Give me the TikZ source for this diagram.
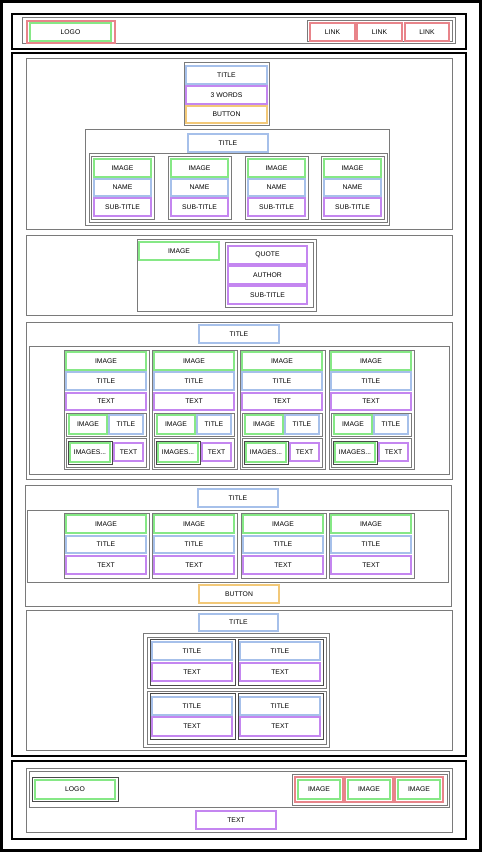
\documentclass[tikz,border=0pt]{standalone}
\usepackage{fontspec}
\newfontfamily\wf{Liberation Sans}
\definecolor{cgray}{HTML}{7A7A7A}
\definecolor{cdark}{HTML}{4A4A4A}
\definecolor{cgreen}{HTML}{86E886}
\definecolor{cblue}{HTML}{A6C0EA}
\definecolor{cpurple}{HTML}{C486F0}
\definecolor{corange}{HTML}{F2C878}
\definecolor{cred}{HTML}{E8848A}
\tikzset{
  wbox/.style={inner sep=0pt, outer sep=0pt, font=\wf\fontsize{6.8}{7}\selectfont, text=black, anchor=center},
  frame/.style={wbox, draw=black, line width=3pt},
  thick box/.style={wbox, draw=black, line width=2.3pt},
  gbox/.style={wbox, draw=cgray, line width=1pt},
  dbox/.style={wbox, draw=cdark, line width=1pt},
  grn/.style={wbox, draw=cgreen, line width=1.1pt},
  blu/.style={wbox, draw=cblue, line width=1.1pt},
  pur/.style={wbox, draw=cpurple, line width=1.1pt},
  org/.style={wbox, draw=corange, line width=1.1pt},
  rd/.style={wbox, draw=cred, line width=1.1pt},
}
\newcommand\bx[7]{\node[#1, minimum width={(#4)-(#2)}, minimum height={(#5)-(#3)}] (#6) at ({((#2)+(#4))/2},{((#3)+(#5))/2}) {#7};}
\begin{document}
\begin{tikzpicture}[x=1pt,y=-1pt]
\useasboundingbox (0,0) rectangle (483,853);
\bx{frame}{1.5}{1.5}{480.5}{850.5}{page}{}
% ---------- header
\bx{thick box}{12}{14}{466}{49}{header}{}
\bx{gbox}{22}{18}{455}{44}{headin}{}
\bx{rd}{27}{21}{115}{43}{logobox}{}
\bx{grn}{30}{23}{111}{41}{logo}{LOGO}
\bx{gbox}{307}{21}{452}{42}{links}{}
\bx{rd}{310}{23}{355}{41}{link1}{LINK}
\bx{rd}{357}{23}{402}{41}{link2}{LINK}
\bx{rd}{405}{23}{449}{41}{link3}{LINK}
% ---------- main
\bx{thick box}{12}{53}{466}{756}{main}{}
% section 1
\bx{gbox}{26}{59}{452}{229}{s1}{}
\bx{gbox}{184}{63}{269}{126}{hero}{}
\bx{blu}{186}{66}{267}{84}{herotitle}{TITLE}
\bx{pur}{186}{86}{267}{104}{herowords}{3 WORDS}
\bx{org}{186}{106}{267}{123}{herobtn}{BUTTON}
\bx{gbox}{85}{130}{389}{225}{team}{}
\bx{blu}{188}{134}{268}{152}{teamtitle}{TITLE}
\bx{gbox}{89}{154}{387}{222}{teamrow}{}
\foreach \x [count=\i] in {91,168,245,321}{
  \bx{gbox}{\x}{157}{\x+63}{219}{tc\i}{}
  \bx{grn}{\x+3}{159}{\x+60}{177}{tci\i}{IMAGE}
  \bx{blu}{\x+3}{179}{\x+60}{196}{tcn\i}{NAME}
  \bx{pur}{\x+3}{198}{\x+60}{216}{tcs\i}{SUB-TITLE}
}
% section 2
\bx{gbox}{26}{235}{452}{315}{s2}{}
\bx{gbox}{137}{239}{316}{311}{testi}{}
\bx{grn}{139}{242}{219}{260}{testimg}{IMAGE}
\bx{gbox}{225}{242}{313}{307}{quotebox}{}
\bx{pur}{228}{246}{307}{264}{quote}{QUOTE}
\bx{pur}{228}{266}{307}{284}{author}{AUTHOR}
\bx{pur}{228}{286}{307}{304}{qsub}{SUB-TITLE}
% section 3
\bx{gbox}{26}{322}{452}{479}{s3}{}
\bx{blu}{199}{325}{279}{343}{s3title}{TITLE}
\bx{gbox}{29}{346}{449}{474}{s3in}{}
\foreach \x [count=\i] in {64,152,240,329}{
  \bx{gbox}{\x}{350}{\x+85}{469}{fc\i}{}
  \bx{grn}{\x+2}{352}{\x+82}{370}{fci\i}{IMAGE}
  \bx{blu}{\x+2}{372}{\x+82}{390}{fct\i}{TITLE}
  \bx{pur}{\x+2}{393}{\x+82}{410}{fcx\i}{TEXT}
  \bx{gbox}{\x+2}{413}{\x+82}{436}{fcr\i}{}
  \bx{grn}{\x+5}{415}{\x+43}{434}{fcri\i}{IMAGE}
  \bx{blu}{\x+45}{415}{\x+79}{434}{fcrt\i}{TITLE}
  \bx{gbox}{\x+2}{438}{\x+82}{467}{fcs\i}{}
  \bx{dbox}{\x+4}{441}{\x+48}{464}{fcsb\i}{}
  \bx{grn}{\x+6}{443}{\x+46}{462}{fcsi\i}{IMAGES...}
  \bx{pur}{\x+50}{443}{\x+79}{461}{fcst\i}{TEXT}
}
% section 4
\bx{gbox}{25}{485}{451}{606}{s4}{}
\bx{blu}{198}{489}{278}{507}{s4title}{TITLE}
\bx{gbox}{27}{510}{448}{582}{s4in}{}
\foreach \x [count=\i] in {64,152,241,329}{
  \bx{gbox}{\x}{513}{\x+85}{578}{gc\i}{}
  \bx{grn}{\x+2}{515}{\x+82}{533}{gci\i}{IMAGE}
  \bx{blu}{\x+2}{536}{\x+82}{553}{gct\i}{TITLE}
  \bx{pur}{\x+2}{556}{\x+82}{574}{gcx\i}{TEXT}
}
\bx{org}{199}{585}{279}{603}{s4btn}{BUTTON}
% section 5
\bx{gbox}{26}{610}{452}{750}{s5}{}
\bx{blu}{199}{614}{278}{631}{s5title}{TITLE}
\bx{gbox}{143}{633}{329}{747}{grid}{}
\bx{gbox}{147}{637}{326}{688}{gridr1}{}
\bx{gbox}{147}{691}{326}{744}{gridr2}{}
\foreach \x [count=\i] in {150,238}{
  \bx{dbox}{\x}{639}{\x+85}{685}{ha\i}{}
  \bx{blu}{\x+2}{642}{\x+82}{660}{hat\i}{TITLE}
  \bx{pur}{\x+2}{663}{\x+82}{681}{hax\i}{TEXT}
  \bx{dbox}{\x}{693}{\x+85}{739}{hb\i}{}
  \bx{blu}{\x+2}{697}{\x+82}{715}{hbt\i}{TITLE}
  \bx{pur}{\x+2}{717}{\x+82}{736}{hbx\i}{TEXT}
}
% ---------- footer
\bx{thick box}{12}{761}{466}{839}{footer}{}
\bx{gbox}{26}{768}{452}{832}{footin}{}
\bx{gbox}{29}{771}{449}{807}{footrow}{}
\bx{dbox}{32}{777}{118}{801}{flogobox}{}
\bx{grn}{35}{780}{115}{799}{flogo}{LOGO}
\bx{gbox}{292}{774}{447}{805}{fimgs}{}
\foreach \x [count=\i] in {295,345,395}{
  \bx{rd}{\x}{777}{\x+48}{802}{fr\i}{}
  \bx{grn}{\x+3}{780}{\x+45}{799}{fi\i}{IMAGE}
}
\bx{pur}{196}{811}{276}{829}{ftext}{TEXT}
\end{tikzpicture}
\end{document}
